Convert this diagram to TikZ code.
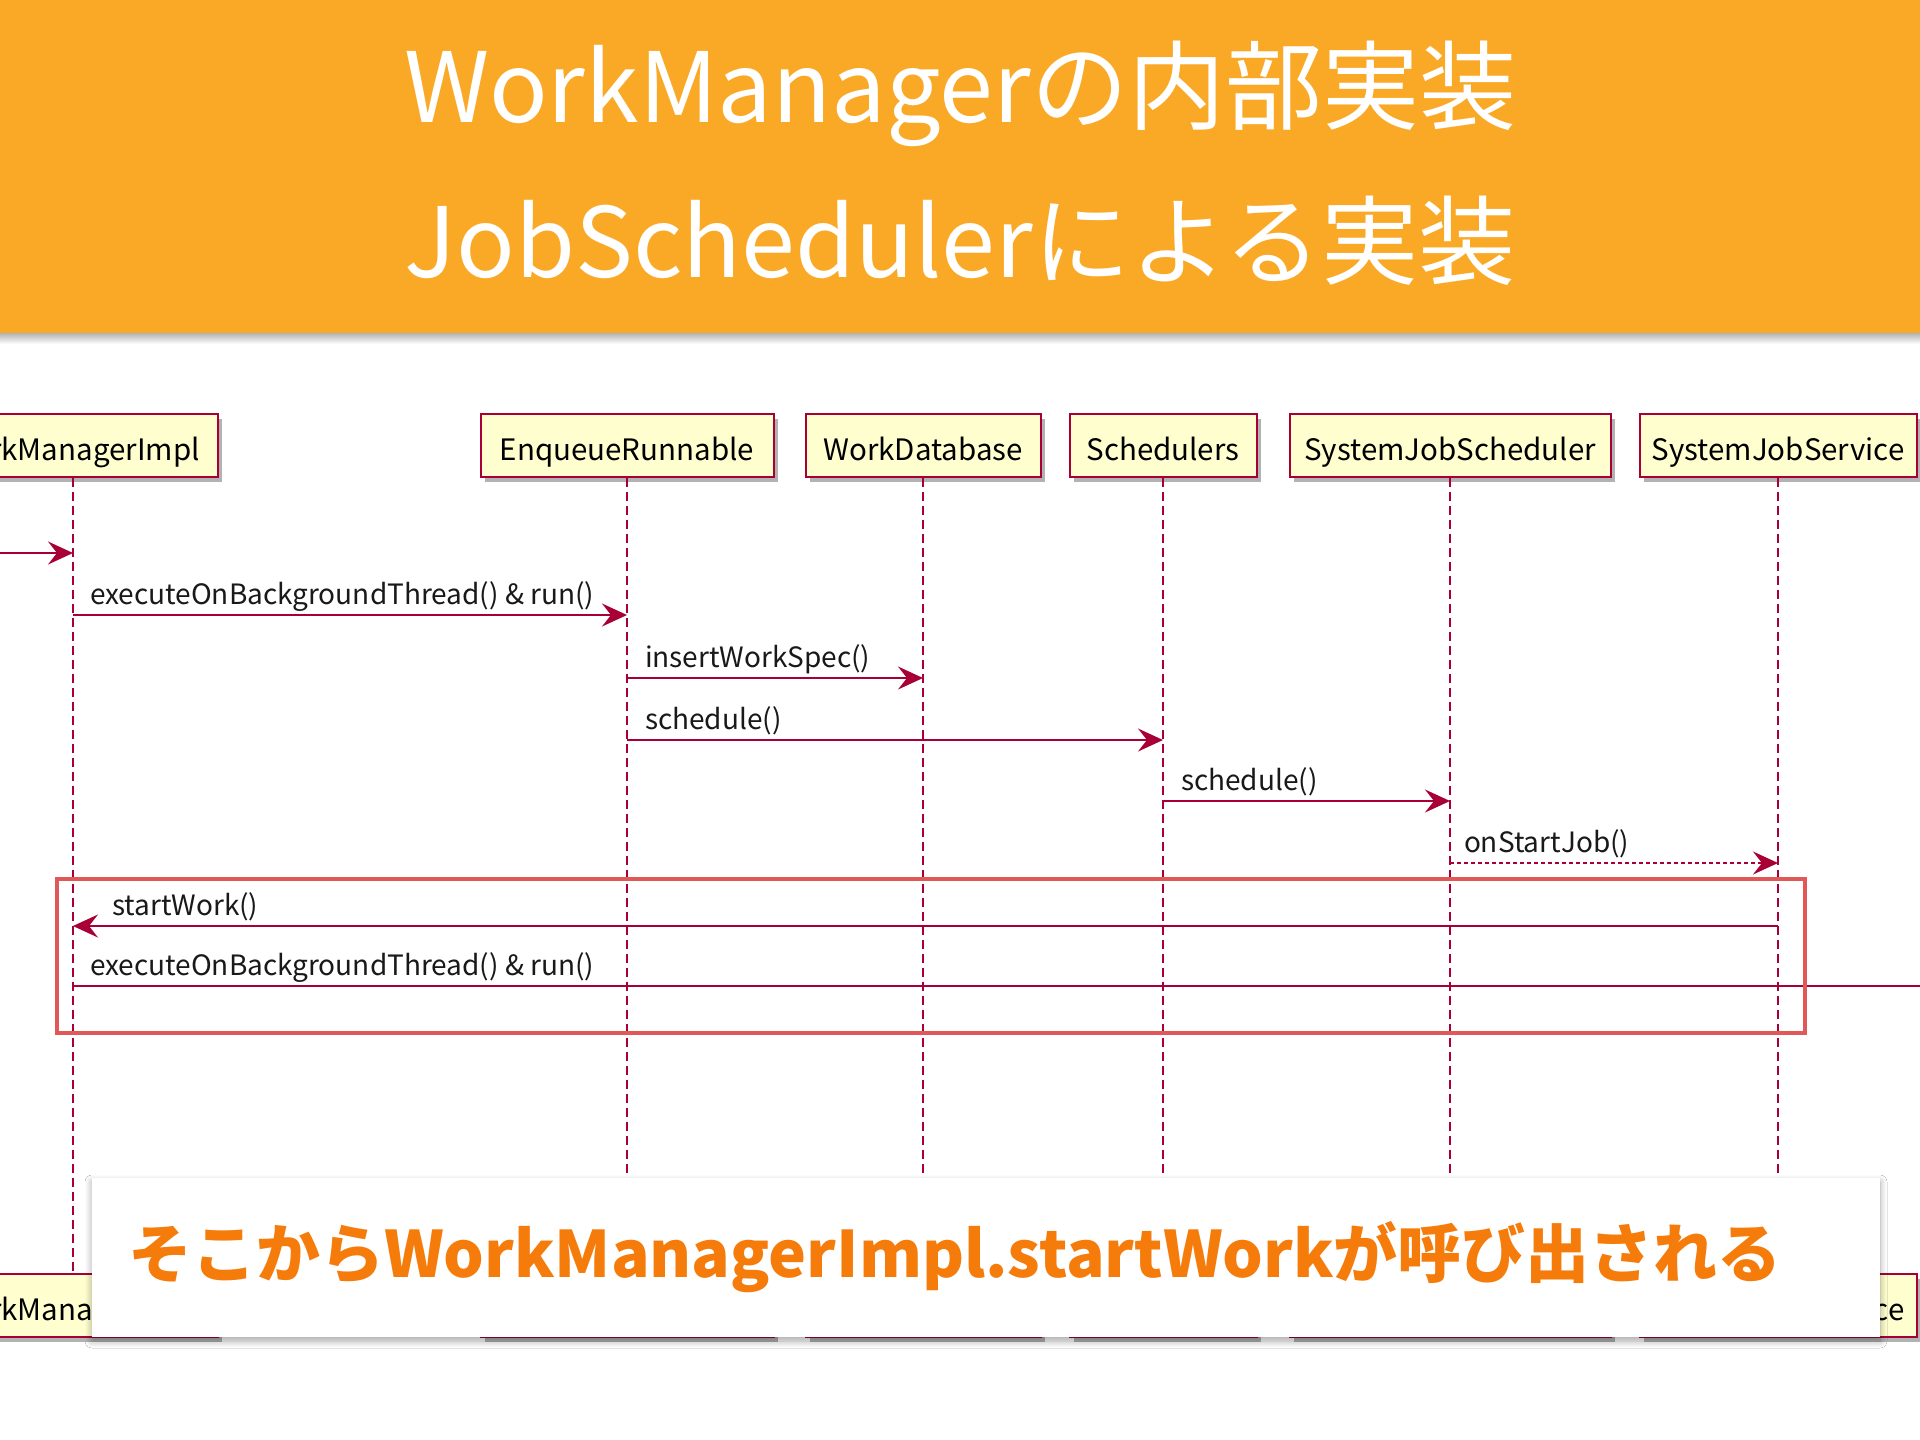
\documentclass[tikz,border=0pt]{standalone}
\usepackage{fontspec}
\setmainfont{Noto Sans CJK JP}
\usetikzlibrary{arrows.meta,shadows,shadows.blur}

\definecolor{banner}{RGB}{250,169,38}
\definecolor{plum}{RGB}{168,0,54}
\definecolor{boxfill}{RGB}{254,254,206}
\definecolor{hlred}{RGB}{224,88,88}
\definecolor{calltext}{RGB}{245,124,10}

\tikzset{
    actor/.style={draw=plum, fill=boxfill, line width=2pt, minimum height=63pt,
        inner xsep=0pt, text height=30pt, text depth=0pt,
        font=\fontsize{29.5}{34}\selectfont,
        drop shadow={shadow xshift=4pt, shadow yshift=-5pt, opacity=0.3, fill=black}},
    life/.style={draw=plum, line width=1.5pt, dash pattern=on 9pt off 5pt},
    msg/.style={draw=plum, line width=2pt, -{Stealth[length=25pt,width=23pt,inset=9pt]}},
    reply/.style={msg, dash pattern=on 4pt off 3pt},
    lbl/.style={anchor=base west, inner sep=0pt, text=black!90,
        font=\fontsize{28}{31}\selectfont},
    hilite/.style={draw=hlred, line width=4pt},
    note/.style={fill=white, blur shadow={shadow xshift=0pt, shadow yshift=-4pt,
        shadow blur radius=7pt, shadow blur steps=8, shadow opacity=35}},
    headline/.style={anchor=base, text=white, font=\fontsize{97}{112}\selectfont}
}

\begin{document}
\begin{tikzpicture}[x=1pt, y=-1pt]
    \useasboundingbox (0,0) rectangle (1920,1440);
    \clip (0,0) rectangle (1920,1440);
    \fill[white] (0,0) rectangle (1920,1440);
    % the orange title band
        \fill[banner] (0,0) rectangle (1920,333);
        \shade[top color=black!30, bottom color=white] (0,333) rectangle (1920,344);
        \node[headline] (head1) at (960,122) {WorkManagerの内部実装};
        \node[headline] (head2) at (960,277) {JobSchedulerによる実装};
    % participants, top row
        \node[actor, minimum width=289pt] (wmi) at (73,445) {WorkManagerImpl};
        \node[actor, minimum width=293pt] (enq) at (627,445) {EnqueueRunnable};
        \node[actor, minimum width=235pt] (wdb) at (923,445) {WorkDatabase};
        \node[actor, minimum width=187pt] (sch) at (1163,445) {Schedulers};
        \node[actor, minimum width=321pt] (sjs) at (1450,445) {SystemJobScheduler};
        \node[actor, minimum width=277pt] (svc) at (1778,445) {SystemJobService};
    % lifelines
        \foreach \p in {wmi,enq,wdb,sch,sjs,svc}
            \draw[life] (\p.south) -- (\p |- 0,1273);
    % participants, bottom row
        \node[actor, minimum width=289pt] (wmib) at (73,1305) {WorkManagerImpl};
        \node[actor, minimum width=293pt] (enqb) at (627,1305) {EnqueueRunnable};
        \node[actor, minimum width=235pt] (wdbb) at (923,1305) {WorkDatabase};
        \node[actor, minimum width=187pt] (schb) at (1163,1305) {Schedulers};
        \node[actor, minimum width=321pt] (sjsb) at (1450,1305) {SystemJobScheduler};
        \node[actor, minimum width=277pt] (svcb) at (1778,1305) {SystemJobService};
    % message rows
        \coordinate (r1) at (0,553);
        \coordinate (r2) at (0,615);
        \coordinate (r3) at (0,678);
        \coordinate (r4) at (0,740);
        \coordinate (r5) at (0,801);
        \coordinate (r6) at (0,863);
        \coordinate (r7) at (0,926);
        \coordinate (r8) at (0,986);
        \coordinate (src) at (-20,553);
        \coordinate (sink) at (1960,986);
    % messages
        \draw[msg] (src) -- (wmi |- r1);
        \draw[msg] (wmi |- r2) -- (enq |- r2)
            node[lbl, at start, xshift=16pt, yshift=11pt] {executeOnBackgroundThread() \& run()};
        \draw[msg] (enq |- r3) -- (wdb |- r3)
            node[lbl, at start, xshift=17pt, yshift=11pt] {insertWorkSpec()};
        \draw[msg] (enq |- r4) -- (sch |- r4)
            node[lbl, at start, xshift=17pt, yshift=11pt] {schedule()};
        \draw[msg] (sch |- r5) -- (sjs |- r5)
            node[lbl, at start, xshift=17pt, yshift=11pt] {schedule()};
        \draw[reply] (sjs |- r6) -- (svc |- r6)
            node[lbl, at start, xshift=13pt, yshift=11pt] {onStartJob()};
        \draw[msg] (svc |- r7) -- (wmi |- r7)
            node[lbl, at end, xshift=38pt, yshift=11pt] {startWork()};
        \draw[msg] (wmi |- r8) -- (sink)
            node[lbl, at start, xshift=16pt, yshift=11pt] {executeOnBackgroundThread() \& run()};
    % highlight around the restart
        \draw[hilite] (57,879) rectangle (1805,1033);
    % callout
        \node[note, minimum width=1788pt, minimum height=159pt, inner xsep=36pt,
            text width=1716pt, align=left, text=calltext,
            font=\fontsize{64}{72}\selectfont\bfseries] (callout) at (986,1257.5)
            {そこからWorkManagerImpl.startWorkが呼び出される};
\end{tikzpicture}
\end{document}
